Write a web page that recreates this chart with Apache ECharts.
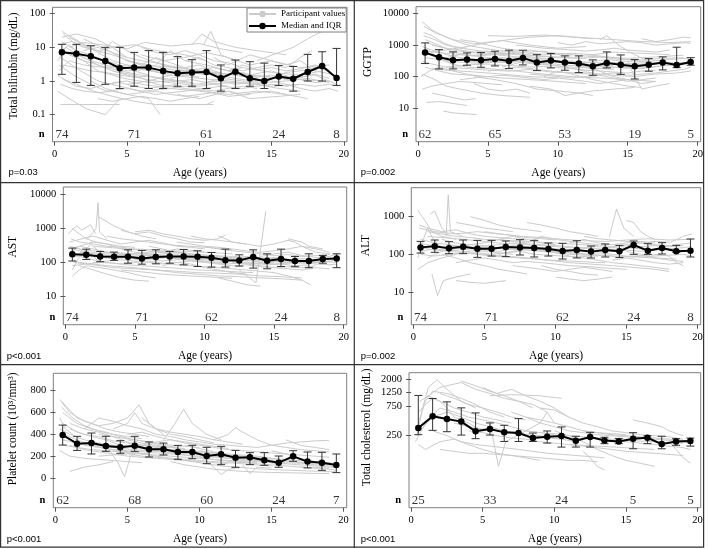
<!DOCTYPE html>
<html>
<head>
<meta charset="utf-8">
<script src="https://cdn.jsdelivr.net/npm/echarts@6.0.0/dist/echarts.min.js"></script>
<style>html,body{margin:0;padding:0;background:#fff}#c{width:709px;height:549px}</style>
</head>
<body>
<div id="c"></div>
<script>
// ---------- shared ----------
const xTicks = [0, 5, 10, 15, 20];
const medAges = [0.5,1.5,2.5,3.5,4.5,5.5,6.5,7.5,8.5,9.5,10.5,11.5,12.5,13.5,14.5,15.5,16.5,17.5,18.5,19.5];
const nAges = [0.5, 5.5, 10.5, 15.5, 19.5];

// ---------- Total bilirubin ----------
const biliTicks = [0.1, 1, 10, 100];
const biliMedian = [7.1,6.5,5.4,3.9,2.4,2.5,2.5,2.0,1.7,1.8,1.85,1.2,1.9,1.2,1.0,1.37,1.17,1.85,2.8,1.23];
const biliLow = [1.58,0.91,0.74,0.8,0.6,0.7,0.6,0.6,0.7,0.7,0.6,0.5,0.6,0.7,0.6,0.74,0.5,1.0,1.0,0.74];
const biliHigh = [12.3,12.3,11.2,10,10,7.1,8,7.1,5.3,4.3,8,3.0,4.2,3.75,3.4,2.9,2.7,6.2,7.4,9.3];
const biliN = [74, 71, 61, 24, 8];
const biliParticipants = [
 [[0.3,12],[1.2,15],[2.5,9],[4,6],[6,3],[8.5,2.5],[11,1.8],[14,1.2]],
 [[0.4,0.2],[1.5,0.2],[3,0.2],[4.5,0.2]],
 [[0.5,20],[1.5,25],[2.8,18],[4,10],[5.5,12],[7,8],[9,6],[10.5,4]],
 [[0.3,3],[1.3,1.5],[2.5,0.8],[3.6,0.5],[5,0.6],[7,0.4],[9,0.5],[11.5,0.7],[13,0.6]],
 [[0.6,8],[2,4],[3,2],[4.8,1.2],[6.5,0.9],[8,1],[10,0.8],[12.5,0.9],[15,0.7],[17,0.8]],
 [[0.2,0.5],[1,0.3],[2.2,0.15],[3.5,0.1],[4.5,0.3]],
 [[1,10],[2,14],[3.2,12],[5,9],[6.2,14],[8,11],[10,13],[11.5,9],[13,7]],
 [[0.4,5],[1.8,2],[3,1],[4.5,0.7],[6,0.5],[8,0.6],[10,0.5],[12,0.4],[14,0.5],[16,0.4],[17.5,0.3]],
 [[2,18],[3.5,9],[5,4],[6.5,3],[8.5,2],[11,2.5],[13.5,1.5],[16,1.2],[18.5,1]],
 [[0.5,1.2],[1.5,0.8],[2.7,0.5],[4,0.35],[5.5,0.25],[7,0.2],[8.5,0.2],[11,0.2]],
 [[4,2],[5.5,1.5],[7,0.8],[9,0.6],[10.5,0.5],[12,0.35],[13.5,0.4]],
 [[6,6],[7.5,4],[9,5],[10.5,7],[12,5],[13.5,3],[15,4],[17,2.5],[19,3]],
 [[9.5,12],[10.2,25],[11,15],[12.5,10],[14,8],[16,6]],
 [[0.3,7],[1,12],[2,5],[3,3],[4.5,2],[6,1.5],[7.5,1.2],[9.5,0.9]],
 [[5,0.8],[6.5,1],[8,1.5],[10,1.2],[12,1],[14,0.8],[15.5,0.6],[17,0.5]],
 [[12,2],[13.5,1.5],[15,2],[16.5,1.2],[18,1.5],[19.5,0.8]],
 [[14,4],[15.5,7],[16.5,10],[17.5,18],[18.5,30],[19.3,40]],
 [[7,3],[8,8],[9,4],[10.5,3],[12,2],[13,2.5],[15,1.8],[17,1.5],[18.5,2]],
 [[2.5,1],[3.5,0.6],[5,0.4],[6.5,0.3],[7.3,0.1]],
 [[10,0.8],[11.5,1.2],[13,1],[14.5,0.9],[16,1],[17.5,1.2],[19,0.9]],
 [[0.5,15],[1.5,8],[2.5,6],[3.5,4],[4.5,3],[5.5,2],[6.5,1.5]],
 [[11,5],[12,3],[13.5,6],[15,4],[16,3],[17,4],[18,2],[19.5,1.5]],
 [[0.3,2],[1,4],[2,3],[3.5,2.5],[5,3],[6.5,2],[8,1.6],[9.5,2.2],[11,1.8],[12.5,1.5],[14,1.3]],
 [[8.5,0.4],[10,0.3],[12,0.5],[13.5,0.3],[15.5,0.35],[17,0.4]],
 [[3,6],[4,15],[5,8],[6,5],[7.5,3],[9,2],[10.5,1.5]],
 [[0.6,25],[1.2,15],[2,10],[3,8],[4,10],[5,5]],
 [[15,1],[16,0.8],[17,0.6],[18,0.5],[19,0.6],[19.6,0.5]],
 [[10.3,12],[10.8,30],[11.5,6],[12.5,4]],
 [[7.5,0.2],[9,0.2],[10.5,0.2],[11,0.25]],
 [[0.2,4],[0.8,10],[1.5,6],[2.5,4],[3.5,3],[5,2],[6.5,2.2],[8,1.4]],
 [[0.3,9],[1,6],[2,4],[3,3],[4,2],[5,1.5],[6,1.2],[7,1],[8,0.9],[9,0.8],[10,0.7],[11,0.8],[12,0.7]],
 [[0.5,3],[1.5,2.5],[2.5,2],[3.5,1.8],[4.5,1.5],[5.5,1.3],[6.5,1.4],[7.5,1.1],[8.5,1],[9.5,1.1],[10.5,0.9],[11.5,1],[12.5,0.8],[13.5,0.9],[14.5,0.8]],
 [[1,20],[2,12],[3,7],[4,4],[5,3],[6,2.5],[7,2],[8,1.8],[9,1.5],[10,1.3]],
 [[0.4,0.8],[1.2,0.6],[2,0.5],[3,0.45],[4,0.5],[5,0.4],[6,0.45],[7,0.5],[8,0.4],[9,0.35],[10,0.4],[11,0.45],[12,0.5],[13,0.4],[14,0.45],[15,0.5],[16,0.4]],
 [[5,4],[6,3],[7,5],[8,3.5],[9,2.5],[10,3],[11,2],[12,1.5],[13,1.8],[14,1.3],[15,1.5],[16,1.1],[17,1.3],[18,1.6],[19,1.2]],
 [[2,8],[3,10],[4,7],[5,5],[6,4],[7,3.5],[8,2.8],[9,2.4],[10,2],[11,1.7],[12,1.4]],
 [[8,1.2],[9,1.5],[10,2],[11,1.6],[12,1.3],[13,1.1],[14,1],[15,1.2],[16,1.4],[17,1.1],[18,0.9],[19,1]],
 [[0.2,1.5],[0.8,1],[1.5,0.7],[2.5,0.6],[3.5,0.8],[4.5,0.9],[5.5,0.7],[6.5,0.6],[7.5,0.7],[8.5,0.8]],
 [[13,0.6],[14,0.7],[15,0.8],[16,0.7],[17,0.8],[18,0.7],[19,0.8],[19.6,0.7]],
 [[6,10],[7,7],[8,6],[9,8],[10,6],[11,4],[12,3.5],[13,2.5]],
 [[3,0.3],[4,0.25],[5,0.3],[6,0.35],[7,0.3],[8,0.25],[9,0.3],[10,0.35]],
 [[11,2.5],[12,2],[13,3],[14,2.2],[15,2.5],[16,2],[17,2.3],[18,3],[19,2.2]],
 [[0.5,30],[1,22],[1.8,14],[2.5,10],[3,12]],
 [[14,1.5],[15,1.2],[16,1.8],[17,2],[18,2.5],[19,2]],
 [[4,0.9],[5,1],[6,0.8],[7,0.7],[8,0.6],[9,0.7],[10,0.6],[11,0.5],[12,0.6],[13,0.7],[14,0.6]],
 [[9,4],[10,5],[11,3],[12,2.5],[13,2],[14,2.5],[15,3],[16,2.5],[17,5],[17.8,8]]
];

// ---------- GGTP ----------
const ggtpTicks = [10, 100, 1000, 10000];
const ggtpMedian = [580,412,330,347,330,365,315,393,280,323,280,260,213,272,240,213,240,280,235,293];
const ggtpLow = [260,175,175,230,198,218,180,235,155,189,159,134,110,189,118,84,148,163,193,230];
const ggtpHigh = [1180,720,610,566,580,640,690,690,500,540,454,454,340,610,488,348,373,423,860,400];
const ggtpN = [62, 65, 53, 19, 5];
const ggtpParticipants = [
 [[0.3,5500],[1,3000],[2,1800],[3,1200],[4,900],[5.5,700],[7,600]],
 [[0.4,4000],[1.2,2500],[2.5,1500],[4,1100],[6,1400],[8,1000],[10,800],[12,900]],
 [[0.5,1500],[1.5,1000],[2.5,600],[3.5,500],[5,400],[6.5,350],[8,300],[10,280],[12,250],[14,220]],
 [[0.6,800],[1.4,400],[2.4,250],[3.5,200],[5,180],[7,150],[9,120],[11,100],[13,90],[15,80],[17,70]],
 [[0.3,120],[1.2,80],[2,50],[3,40],[4.5,30],[6,25],[8,22]],
 [[0.6,15],[1.5,16],[2.5,14],[3.5,12]],
 [[1.8,8],[2.5,7],[3.5,6.5],[4.2,6.2]],
 [[1,30],[2,24],[3.3,18],[4.1,20]],
 [[0.5,600],[2,700],[3.5,900],[5,1200],[6.5,1500],[8,1800],[10,2000],[12,1700],[14,1500],[16,1300],[18,1200],[19.5,1300]],
 [[5,2000],[7,1900],[9,2100],[11,1800],[12.5,1600]],
 [[2,300],[3,350],[4.5,280],[6,320],[7.5,450],[9,380],[10.5,300],[12,280],[13.5,350],[15,300],[17,280],[18.5,250],[19.5,300]],
 [[4,100],[5.5,80],[7,60],[8.5,40],[10,35],[11.5,30],[12.5,25]],
 [[8,50],[9.5,40],[10.5,25],[11.5,30],[12.5,35],[14,40],[15.5,45]],
 [[13,1500],[13.5,2000],[14.5,900],[15.5,500],[16.5,300],[17.5,250]],
 [[15,300],[15.5,100],[16,40],[17,50],[18,60]],
 [[0.3,300],[1,250],[2,200],[3.5,180],[5,160],[6.5,150],[8,170],[9.5,140],[11,130],[12.5,120],[14,110],[15.5,100],[17,120],[18.5,130],[19.5,150]],
 [[1,1000],[2,800],[3,700],[4,600],[5,650],[6,500],[7,550],[8.5,450],[10,400],[11.5,380],[13,420],[14.5,350],[16,330],[17.5,380],[19,400]],
 [[0.5,200],[1.5,150],[2.5,120],[4,110],[6,90],[8,80],[10,70],[12,60]],
 [[3,1500],[4,1300],[5,1000],[6,800],[7,700],[8,600],[9,650],[10,500],[11,450]],
 [[6,200],[7.5,300],[9,250],[10.5,200],[12,150],[13,180],[14.5,200],[16,180],[17.5,220],[19,240]],
 [[9,100],[10,150],[11,120],[12.5,80],[14,60],[15,50],[16,45]],
 [[0.4,2500],[1,2000],[1.8,1200],[2.5,900],[3.5,800]],
 [[10,1200],[11,1000],[12,1300],[13,1100],[14,1200],[15,1300],[16,1200],[17,1000],[18,1100],[19,1200],[19.5,1150]],
 [[16,1600],[17,1300],[18,1500],[19,1800],[19.5,1700]],
 [[2,400],[3,500],[4,450],[5.5,500],[7,600],[8,550],[9.5,500],[11,550],[12.5,500],[14,600],[16,550],[18,500]],
 [[0.2,100],[0.8,150],[1.5,200],[2.5,150],[3.5,120],[4.5,100]],
 [[4,60],[5,40],[6,35],[7,40],[8,30]],
 [[11,300],[12,200],[13,150],[14,100],[15,80],[16,60],[17,70]],
 [[0.3,900],[1,700],[2,500],[3,400],[4,350],[5,300],[6,280],[7,300],[8,260],[9,240],[10,220],[11,200],[12,190],[13,180],[14,170]],
 [[0.5,400],[1.5,350],[2.5,300],[3.5,280],[4.5,260],[5.5,300],[6.5,280],[7.5,320],[8.5,250],[9.5,260],[10.5,230],[11.5,220],[12.5,200],[13.5,210],[14.5,190],[15.5,180],[16.5,200],[17.5,220]],
 [[1,600],[2,550],[3,500],[4,480],[5,520],[6,600],[7,650],[8,700],[9,600],[10,550],[11,500],[12,450],[13,420],[14,400],[15,380],[16,400],[17,420],[18,450],[19,480]],
 [[2,200],[3,220],[4,240],[5,250],[6,230],[7,220],[8,200],[9,210],[10,190],[11,180],[12,160],[13,150],[14,140],[15,130],[16,150],[17,160]],
 [[0.4,2000],[1.2,1500],[2,1000],[3,800],[4,700],[5,600],[6,550],[7,500],[8,480],[9,450],[10,420],[11,400],[12,380]],
 [[5,150],[6,170],[7,200],[8,180],[9,160],[10,140],[11,130],[12,140],[13,120],[14,130],[15,110],[16,120],[17,130],[18,150],[19,170],[19.5,200]],
 [[3,80],[4,90],[5,100],[6,110],[7,100],[8,90],[9,80],[10,90],[11,80],[12,70],[13,60],[14,70],[15,80]],
 [[12,500],[13,450],[14,400],[15,350],[16,300],[17,320],[18,350],[19,380],[19.5,350]],
 [[0.6,1200],[1.5,900],[2.5,700],[3.5,600],[4.5,550],[5.5,500],[6.5,450],[7.5,400],[8.5,380],[9.5,350]],
 [[7,1000],[8,900],[9,800],[10,750],[11,700],[12,650],[13,700],[14,800],[15,700],[16,650],[17,600],[18,700]],
 [[1,180],[2,160],[3,150],[4,140],[5,130],[6,120],[7,110],[8,100],[9,95],[10,90]],
 [[14,250],[15,200],[16,220],[17,250],[18,280],[19,250],[19.5,270]],
 [[0.3,40],[1,50],[2,60],[3,70],[4,65],[5,60],[6,55]],
 [[8,120],[9,110],[10,100],[11,90],[12,100],[13,110],[14,90],[15,70],[16,80],[17,90]],
 [[4,300],[5,350],[6,400],[7,380],[8,350],[9,330],[10,300],[11,310],[12,290],[13,270],[14,280],[15,260],[16,250],[17,270],[18,260],[19,280]]
];

// ---------- AST ----------
const astTicks = [10, 100, 1000, 10000];
const astMedian = [176,168,150,147,147,131,144,150,150,147,137,117,115,144,112,126,110,110,126,131];
const astLow = [110,122,105,115,95,89,91,95,85,76,73,73,78,68,65,76,75,70,95,70];
const astHigh = [265,247,211,202,236,226,236,211,242,221,197,247,168,236,180,247,150,180,161,180];
const astN = [74, 71, 62, 24, 8];
const astParticipants = [
 [[0.3,200],[1,300],[2,250],[3,200],[4,180],[5.5,160],[7,150],[8.5,140],[10,130],[12,120],[14,110],[16,100]],
 [[0.5,1000],[1,700],[1.5,500],[2.2,400],[3,350],[4,300],[5,280]],
 [[1.6,500],[2.2,1000],[2.35,5800],[2.45,800],[3,500]],
 [[2.4,2200],[3.5,1200],[4.5,800],[5.5,600],[6.5,500]],
 [[0.5,40],[1,60],[1.5,80],[2.5,70],[3.5,60],[4.5,50],[5.5,40],[6.5,35]],
 [[0.6,100],[1.5,90],[2.5,80],[3.5,70],[5,65],[6.5,60],[8,55],[9.5,50],[11,48],[12.5,45],[14,40],[15.5,38],[17,35]],
 [[0.3,400],[1.2,500],[2,600],[3,450],[4,350],[5,400],[6,450],[7,380],[8,300],[9,280],[10,250]],
 [[5,800],[6,900],[7,700],[8,600],[9,500],[10,450],[11,500],[11.5,650]],
 [[1,150],[2,120],[3,100],[4,90],[5,100],[6,110],[7,95],[8,85],[9,80],[10,75],[11,70],[12,65],[13,60],[14,55],[15,50]],
 [[0.4,250],[1.5,200],[3,180],[4.5,170],[6,200],[7.5,220],[9,180],[10.5,160],[12,150],[13.5,140],[15,130],[16.5,120],[18,110],[19.5,100]],
 [[12.5,60],[13.7,25],[14.4,3200]],
 [[8,400],[9,350],[10,300],[11,280],[12,250],[13,220],[14,200],[15,220],[16,250],[17,300],[18,250],[19,200]],
 [[11,35],[12,28],[13,22],[14,20]],
 [[15,50],[16,40],[17,30],[17.6,22]],
 [[0.2,700],[0.8,1200],[1.2,900],[1.8,1300],[2.2,700]],
 [[6,300],[7,250],[8,200],[9,180],[10,160],[11,150],[12,140],[13,130],[14,120],[15,115],[16,110],[17,105],[18,100],[19,110],[19.5,120]],
 [[1,80],[2,60],[3,45],[4,35],[5,30],[6,28]],
 [[4,900],[5,700],[6,800],[7,600],[8,500],[9,400],[10,380]],
 [[11,600],[11.5,500],[12,400],[13,350],[14,300],[15,350],[16,450],[16.5,400],[17,300],[18,200],[19,180]],
 [[0.5,120],[1,100],[2,90],[3,80],[4,75],[5,70],[6.5,60],[8,50],[9.5,45],[11,40],[12.5,38],[14,35],[15.5,33],[17,30]],
 [[7,80],[8,100],[9,90],[10,70],[11,60],[12,50],[13,45]],
 [[14,150],[15,180],[16,200],[17,160],[18,140],[19,150],[19.5,180]],
 [[0.5,60],[1,150],[1.5,250],[2,150],[2.5,100]],
 [[9,600],[10,500],[11,450],[12,400],[13,350]],
 [[16,500],[17,400],[17.5,300],[18.5,250]],
 [[2,300],[3,280],[4,260],[5,240],[6,220],[7,200],[8,190],[9,180]],
 [[0.3,300],[1,250],[2,220],[3,200],[4,190],[5,180],[6,170],[7,160],[8,170],[9,150],[10,140],[11,130],[12,120],[13,110],[14,120],[15,110],[16,100],[17,95],[18,100],[19,110]],
 [[0.5,150],[1.5,160],[2.5,140],[3.5,130],[4.5,140],[5.5,120],[6.5,130],[7.5,140],[8.5,120],[9.5,110],[10.5,100],[11.5,90],[12.5,95],[13.5,100],[14.5,85],[15.5,90],[16.5,80],[17.5,85]],
 [[1,200],[2,180],[3,160],[4,170],[5,150],[6,160],[7,180],[8,200],[9,170],[10,150],[11,140],[12,130],[13,150],[14,130],[15,140],[16,120],[17,130],[18,120],[19,130],[19.5,140]],
 [[0.4,500],[1,400],[2,350],[3,300],[4,280],[5,250],[6,240],[7,230],[8,220],[9,210],[10,200],[11,190],[12,180]],
 [[2,100],[3,110],[4,120],[5,110],[6,100],[7,90],[8,100],[9,110],[10,100],[11,90],[12,80],[13,85],[14,75],[15,70],[16,75],[17,70],[18,80]],
 [[3,600],[4,500],[5,450],[6,400],[7,350],[8,320],[9,300],[10,280],[11,260],[12,240]],
 [[0.5,80],[1.5,90],[2.5,100],[3.5,95],[4.5,85],[5.5,80],[6.5,75],[7.5,70],[8.5,65],[9.5,60],[10.5,58],[11.5,55],[12.5,52],[13.5,50]],
 [[7,150],[8,130],[9,120],[10,110],[11,100],[12,110],[13,120],[14,100],[15,90],[16,95],[17,100],[18,90],[19,85],[19.5,90]],
 [[1,300],[2,400],[3,350],[4,250],[5,200],[6,180],[7,200],[8,250],[9,230],[10,200]],
 [[10,300],[11,250],[12,220],[13,200],[14,180],[15,160],[16,170],[17,150],[18,160],[19,170]],
 [[4,60],[5,55],[6,50],[7,45],[8,42],[9,40],[10,38],[11,36],[12,34]],
 [[12,100],[13,90],[14,80],[15,70],[16,65],[17,60],[18,70],[19,65]],
 [[0.3,150],[0.8,300],[1.3,200],[1.8,350],[2.5,200]],
 [[5,120],[6,130],[7,110],[8,120],[9,130],[10,120],[11,110],[12,105],[13,95],[14,90],[15,100]]
];

// ---------- ALT ----------
const altTicks = [10, 100, 1000];
const altMedian = [153,163,144,160,141,141,157,153,147,138,123,130,118,130,120,177,125,147,120,125];
const altLow = [108,113,104,104,83,90,87,96,85,90,75,80,80,85,82,100,100,102,113,85];
const altHigh = [221,240,217,240,235,235,226,245,235,200,196,230,166,188,173,226,192,204,173,255];
const altN = [74, 71, 62, 24, 8];
const altParticipants = [
 [[0.3,1500],[0.8,800],[1.3,400],[2,300],[3,250]],
 [[1.2,1200],[1.5,1400],[2,500],[2.5,300]],
 [[2.3,300],[2.45,3800],[2.6,400],[3.5,300]],
 [[1.3,30],[1.7,8],[2.1,20],[3,25],[4,30]],
 [[0.3,40],[1,60],[2,80],[3,100],[4,120]],
 [[0.5,250],[1.5,200],[2.5,180],[3.5,160],[5,150],[6.5,140],[8,130],[9.5,120],[11,110],[12.5,100],[14,90],[15.5,85],[17,80],[18.5,75]],
 [[0.4,500],[1.5,400],[3,350],[4.5,400],[6,350],[7.5,300],[9,280],[10.5,250],[12,230],[13.5,220],[15,240],[16.5,260],[18,240],[19.5,250]],
 [[3,700],[4,600],[5,500],[6,450],[7,400]],
 [[2,100],[3,80],[4,60],[5,50],[6,40],[7,35],[8,30]],
 [[3,20],[4,18],[5,17],[6.5,20]],
 [[8,700],[9,600],[10,500],[11,400],[12,350],[13,300]],
 [[10,25],[11,22],[12,20],[13,22],[14,25]],
 [[13.8,300],[14.3,1600],[14.8,500],[15.5,300]],
 [[15,800],[15.5,700],[16,400],[16.5,300],[17,250]],
 [[0.5,150],[1.5,130],[2.5,120],[3.5,110],[5,100],[6.5,90],[8,80],[9.5,70],[11,60],[12.5,55],[14,50],[15.5,45],[17,40],[18,35]],
 [[1,300],[2,280],[3,260],[4,240],[5,220],[6,200],[7,190],[8,180],[9,170],[10,160],[11,150],[12,145],[13,140],[14,135],[15,150],[16,140],[17,130],[18,140],[19,150],[19.5,160]],
 [[18,200],[19,300],[19.6,350]],
 [[6,100],[7,120],[8,150],[9,130],[10,110],[11,90],[12,80],[13,70],[14,60],[15,55],[16,50],[17,45],[18,40]],
 [[4,1000],[5,800],[6,600],[7,500],[8,450],[9,400]],
 [[9,50],[10,40],[11,35],[12,30],[13,28]],
 [[17,100],[18,90],[18.5,60],[19,50]],
 [[0.3,80],[0.6,200],[1,500],[1.4,250],[2,150]],
 [[11,200],[12,250],[13,200],[14,180],[15,200],[16,220],[17,200]],
 [[3,150],[4,180],[5,200],[6,250],[7,300],[8,250],[9,200],[10,180]],
 [[15,120],[16,100],[17,80],[18,70],[19,65]],
 [[5,400],[6,350],[7,320],[8,280],[9,260],[10,240]],
 [[0.3,200],[1,180],[2,160],[3,170],[4,150],[5,160],[6,150],[7,170],[8,160],[9,150],[10,140],[11,130],[12,120],[13,130],[14,120],[15,130],[16,120],[17,140],[18,130],[19,120]],
 [[0.5,120],[1.5,140],[2.5,130],[3.5,120],[4.5,110],[5.5,100],[6.5,110],[7.5,120],[8.5,100],[9.5,95],[10.5,90],[11.5,85],[12.5,90],[13.5,95],[14.5,85],[15.5,90],[16.5,95],[17.5,100]],
 [[1,400],[2,350],[3,300],[4,280],[5,250],[6,240],[7,230],[8,220],[9,210],[10,200],[11,190],[12,180],[13,170]],
 [[2,250],[3,200],[4,180],[5,170],[6,180],[7,200],[8,190],[9,180],[10,170],[11,160],[12,150],[13,160],[14,150],[15,170],[16,160],[17,170],[18,160],[19,170]],
 [[0.4,600],[1,500],[2,400],[3,450],[4,350],[5,300],[6,280],[7,260],[8,240]],
 [[3,60],[4,70],[5,80],[6,70],[7,60],[8,65],[9,60],[10,55],[11,50],[12,48],[13,45],[14,42],[15,40]],
 [[6,250],[7,220],[8,200],[9,300],[10,250],[11,220],[12,200],[13,180],[14,160],[15,180],[16,200],[17,180],[18,170],[19.5,200]],
 [[0.5,100],[1.5,90],[2.5,100],[3.5,110],[4.5,100],[5.5,90],[6.5,85],[7.5,80],[8.5,75],[9.5,70],[10.5,68],[11.5,65],[12.5,62],[13.5,60]],
 [[10,120],[11,110],[12,100],[13,110],[14,100],[15,90],[16,85],[17,90],[18,95],[19,100],[19.6,90]],
 [[7,50],[8,45],[9,40],[10,35],[11,40],[12,45],[13,40],[14,35]],
 [[12,300],[13,260],[14,240],[15,220],[16,200],[17,220],[18,210]],
 [[1,80],[2,120],[3,140],[4,130],[5,120],[6,110],[7,100]],
 [[14,70],[15,80],[16,70],[17,60],[18,55],[19,60]],
 [[4,150],[5,130],[6,120],[7,140],[8,130],[9,120],[10,110],[11,100],[12,95],[13,90]]
];

// ---------- Platelet count ----------
const pltTicks = [0, 200, 400, 600, 800];
const pltMedian = [394,314,320,293,281,296,263,263,238,238,201,217,186,189,162,140,198,150,140,119];
const pltLow = [302,253,220,244,226,244,192,211,171,177,131,122,98,122,116,98,153,92,70,49];
const pltHigh = [485,382,412,382,342,382,330,320,299,299,281,290,253,232,232,201,250,238,235,220];
const pltN = [62, 68, 60, 24, 7];
const pltParticipants = [
 [[0.3,720],[0.8,650],[1.5,550],[2.5,500],[3.5,450],[4.5,420],[5.5,400],[6.5,380]],
 [[0.4,700],[1,600],[2,520],[3,480],[4,500],[5,550],[5.8,670],[6.5,500],[7.5,400]],
 [[0.5,500],[1.5,420],[2.5,380],[3.5,350],[4.5,300],[5.5,280],[6.5,260],[7.5,240],[8.5,220],[9.5,200],[10.5,180],[11.5,160],[12.5,150],[13.5,140]],
 [[0.6,400],[1.5,350],[2.5,300],[3.5,270],[4.5,250],[5.5,230],[6.5,210],[7.5,190],[8.5,170],[9.5,150],[10.5,130],[11.5,110],[12.5,100],[13.5,90],[14.5,80],[15.5,75],[16.5,70],[17.5,65],[18.5,60],[19.5,55]],
 [[1,60],[2,100],[3,120],[4,150]],
 [[3.5,300],[4.3,150],[4.8,10],[5.2,200],[6,250]],
 [[7.5,350],[8.3,500],[8.9,630],[9.5,500],[10.5,400],[11.5,350]],
 [[2,450],[3,550],[4,520],[5,480],[6,450],[7,400],[8,380],[9,350],[10,330],[11,310],[12,300],[13,290],[14,280],[15,300],[16,320],[17,330],[18,340],[19,345]],
 [[11,350],[12,400],[12.5,460],[13,420],[14,350],[15,300],[16,280],[17,260],[18,250],[19,240]],
 [[0.3,250],[1,200],[2,180],[3,170],[4,160],[5,150],[6,140]],
 [[5,350],[6,320],[7,300],[8,280],[9,260],[10,240],[11,220],[12,200],[13,180],[14,160],[15,140],[16,130],[17,120],[18,110],[19,100],[19.5,95]],
 [[10,200],[11,100],[11.5,30],[12,80],[13,100]],
 [[13,120],[13.5,40],[14,100],[15,90]],
 [[15,250],[16,220],[17,180],[18,150],[19,130]],
 [[8,150],[9,120],[10,100],[11,80],[12,70],[13,60],[14,55],[15,50],[16,48],[17,45],[18,42],[19,40]],
 [[0.5,600],[1.5,500],[2.5,450],[3.5,420],[4.5,380],[5.5,350],[6.5,330],[7.5,300],[8.5,280]],
 [[6,550],[7,450],[8,420],[9,400],[10,380],[11,350],[12,330],[13,310]],
 [[1,300],[2,260],[3,240],[4,220],[5,200],[6,190],[7,180],[8,170],[9,160],[10,150],[11,140],[12,130]],
 [[3,400],[4,380],[5,330],[6,300],[7,280],[8,260]],
 [[14,200],[15,180],[16,160],[17,140],[18,120],[19,110],[19.5,100]],
 [[0.3,550],[0.7,450],[1.2,400]],
 [[16,350],[17,300],[18,280],[19,260]],
 [[9,300],[10,270],[11,240],[12,210],[13,190],[14,170],[15,150]],
 [[4,250],[5,230],[6,220],[7,210],[8,200],[9,190],[10,180],[11,170],[12,160],[13,150],[14,140]],
 [[17,100],[18,90],[19,80],[19.5,70]],
 [[0.3,450],[1,400],[2,350],[3,320],[4,300],[5,290],[6,280],[7,270],[8,260],[9,250],[10,240],[11,230],[12,220],[13,210],[14,200]],
 [[0.5,350],[1.5,320],[2.5,300],[3.5,290],[4.5,270],[5.5,260],[6.5,250],[7.5,240],[8.5,230],[9.5,220],[10.5,210],[11.5,200],[12.5,190],[13.5,180],[14.5,170],[15.5,160],[16.5,150],[17.5,140]],
 [[1,500],[2,450],[3,420],[4,380],[5,360],[6,340],[7,320],[8,300],[9,290],[10,280]],
 [[2,300],[3,280],[4,260],[5,250],[6,240],[7,230],[8,220],[9,210],[10,200],[11,190],[12,180],[13,170],[14,160],[15,150],[16,140],[17,135],[18,130],[19,125]],
 [[0.4,650],[1.2,550],[2,480],[3,430],[4,400],[5,380],[6,360]],
 [[4,450],[5,500],[5.5,600],[6,500],[7,450],[8,400],[9,380],[10,350],[11,320]],
 [[3,200],[4,210],[5,220],[6,200],[7,190],[8,180],[9,170],[10,160],[11,150],[12,140],[13,130],[14,120],[15,110]],
 [[6,300],[7,330],[8,350],[9,320],[10,300],[11,280],[12,260],[13,250],[14,240],[15,230],[16,220],[17,210],[18,200],[19,190]],
 [[0.5,300],[1.5,280],[2.5,260],[3.5,250],[4.5,240],[5.5,230],[6.5,220]],
 [[10,250],[11,230],[12,210],[13,200],[14,190],[15,180],[16,170],[17,160],[18,150],[19,140],[19.5,130]],
 [[12,150],[13,140],[14,130],[15,120],[16,110],[17,100],[18,95],[19,90]],
 [[5,400],[6,420],[7,380],[8,350],[9,330],[10,310],[11,290],[12,270]],
 [[1,450],[2,400],[3,380],[4,340],[5,320],[6,300],[7,290],[8,280],[9,270]],
 [[8,250],[9,230],[10,220],[11,200],[12,180],[13,160],[14,150],[15,140],[16,130]]
];

// ---------- Total cholesterol ----------
const cholTicks = [250, 750, 1250, 2000];
const cholMedian = [333,515,466,422,294,321,283,276,229,241,247,208,238,210,202,224,232,183,202,205];
const cholLow = [260,305,290,256,224,256,202,202,202,190,164,164,164,186,186,154,186,154,175,170];
const cholHigh = [1115,995,879,703,583,402,368,472,276,298,346,245,283,236,226,280,249,245,224,229];
const cholN = [25, 33, 24, 5, 5];
const cholParticipants = [
 [[0.4,250],[0.8,700],[1.2,1500],[1.8,2000],[2.5,1400],[3.5,900],[4.5,700]],
 [[0.5,400],[1,900],[1.5,1300],[2.5,1200],[3.5,1000],[4.5,800],[5.5,600],[6.5,500]],
 [[0.6,300],[1.5,500],[2.5,600],[3.5,500],[4.5,400],[5.5,350],[6.5,300],[7.5,280],[8.5,250],[9.5,230],[10.5,220],[11.5,200]],
 [[0.5,180],[1,150],[2,200],[3,220],[4,180],[5,150],[6,130],[7,120],[8,110],[9,100]],
 [[1,1000],[2,1500],[3,1700],[3.5,1800],[4.5,1400],[5.5,1200],[6.5,1000],[7.5,900],[8.5,800],[9.5,600]],
 [[3.5,1900],[4.5,1600],[5.5,1300],[6.5,1100],[7.5,900],[8.5,700]],
 [[5,1500],[6,1200],[7,1400],[8,1100],[9,900],[10,700],[11,500]],
 [[5.5,1100],[7,1150],[9,1100],[10.5,1000]],
 [[1.5,300],[2.5,250],[3.5,200],[4.5,180],[5.5,170],[6.5,160],[7.5,150],[8.5,140],[9.5,130],[10.5,125],[11.5,120],[12.5,115],[13.5,110]],
 [[5.5,400],[6.1,80],[6.6,200],[8,300],[9,400],[9.5,600],[10,400]],
 [[8,500],[9,400],[10,350],[11,300],[12,280],[13,260],[14,250],[15,240],[16,230],[17,220],[18,210],[19,200],[19.5,190]],
 [[10,300],[11,250],[12,200],[13,150],[14,120],[15,100],[16,90],[17,80]],
 [[12,140],[12.5,110],[13,80],[13.5,70]],
 [[0.3,200],[1,400],[2,700],[3,600],[4,500],[5,450],[6,400],[7,350],[8,300],[9,280],[10,260]],
 [[2,1200],[3,1000],[4,800],[5,700],[6,600],[7,500],[8,450]],
 [[9,700],[10,650],[11,500],[12,400],[13,350],[14,300],[15,280],[16,260],[17,250],[18,240],[19,220]],
 [[15.5,450],[16.5,400],[17.5,350],[18,300],[19,250]],
 [[11,180],[12,170],[13,160],[14,150],[15,140],[16,135],[17,130],[18,125],[19,120]],
 [[18,200],[18.5,150],[19,110],[19.5,90]],
 [[0.5,600],[1,800],[1.5,1000],[2,900],[2.5,700],[3,500],[4,400],[5,300]],
 [[4,300],[5,280],[6,250],[7,230],[8,220],[9,200],[10,190],[11,180],[12,175],[13,170],[14,165],[15,160],[16,155],[17,150]],
 [[0.6,900],[1.2,1100],[2,900],[3,700],[4,600],[5,500],[6,450],[7,400]],
 [[7,600],[8,500],[9,450],[10,400],[11,350],[12,300],[13,280],[14,270],[15,260]],
 [[13,230],[14,210],[15,200],[16,190],[17,180],[18,170],[19,160],[19.5,150]],
 [[2,150],[3,140],[4,130],[5,130],[6,125],[7,120],[8,115],[9,110],[10,105],[11,100],[12,100],[13,95]],
 [[8,300],[9,280],[10,270],[11,250],[12,240],[13,230],[14,220],[15,210],[16,205],[17,200],[18,195],[19,190]],
 [[3,400],[4,350],[5,320],[6,300],[7,280],[8,260],[9,250],[10,240],[11,230],[12,220]],
 [[12,300],[13,280],[14,260],[15,250],[16,240],[17,230],[18,220],[19,210],[19.5,200]]
];

// ---------- layout / styles ----------
const SERIF = '"Liberation Serif","Times New Roman",serif';
const SANS = '"Liberation Sans",Arial,sans-serif';
const X_MIN = -0.15, X_MAX = 20.22;
const GREY = '#cbcbcb';

const panels = [
 {yName:'Total bilirubin (mg/dL)', yType:'log', yMin:0.05, yMax:155, ticks:biliTicks, med:biliMedian, low:biliLow, high:biliHigh, n:biliN, parts:biliParticipants, p:'p=0.03',
  box:{l:52.5, r:347, t:7.3, b:141.7, db:124.8}, nameGap:33, pPos:[8.5,172.5]},
 {yName:'GGTP', yType:'log', yMin:5, yMax:16700, ticks:ggtpTicks, med:ggtpMedian, low:ggtpLow, high:ggtpHigh, n:ggtpN, parts:ggtpParticipants, p:'p=0.002',
  box:{l:416, r:700.7, t:6.7, b:141.7, db:117.5}, nameGap:42.5, pPos:[360.7,172.5]},
 {yName:'AST', yType:'log', yMin:5, yMax:16900, ticks:astTicks, med:astMedian, low:astLow, high:astHigh, n:astN, parts:astParticipants, p:'p<0.001',
  box:{l:63.3, r:346.7, t:187, b:324.7, db:306.5}, nameGap:44, pPos:[6.7,356]},
 {yName:'ALT', yType:'log', yMin:5, yMax:5890, ticks:altTicks, med:altMedian, low:altLow, high:altHigh, n:altN, parts:altParticipants, p:'p=0.002',
  box:{l:411.3, r:700.7, t:187.7, b:324.7, db:303.3}, nameGap:39.5, pPos:[360.7,356]},
 {yName:'Platelet count (10\u00B3/mm\u00B3)', yType:'value', yMin:-60, yMax:960, ticks:pltTicks, med:pltMedian, low:pltLow, high:pltHigh, n:pltN, parts:pltParticipants, p:'p<0.001',
  box:{l:53.3, r:346.7, t:373.3, b:507.7, db:484.5}, nameGap:34, pPos:[6.7,539]},
 {yName:'Total cholesterol (mg/dL)', yType:'log', yMin:45, yMax:2594, ticks:cholTicks, med:cholMedian, low:cholLow, high:cholHigh, n:cholN, parts:cholParticipants, p:'p<0.001',
  box:{l:409, r:700.7, t:372.7, b:507.7, db:481.9}, nameGap:36.3, pPos:[360.7,539]}
];

function renderErrorBar(params, api) {
  const x = api.value(0);
  const lo = api.coord([x, api.value(1)]);
  const hi = api.coord([x, api.value(2)]);
  const w = 4;
  const style = {stroke:'#333', lineWidth:1, fill:null};
  return {type:'group', children:[
    {type:'line', shape:{x1:lo[0], y1:lo[1], x2:hi[0], y2:hi[1]}, style:style},
    {type:'line', shape:{x1:lo[0]-w, y1:lo[1], x2:lo[0]+w, y2:lo[1]}, style:style},
    {type:'line', shape:{x1:hi[0]-w, y1:hi[1], x2:hi[0]+w, y2:hi[1]}, style:style}
  ]};
}

const option = {
  animation: false,
  backgroundColor: '#fff',
  grid: [], xAxis: [], yAxis: [], series: [],
  legend: {
    data: ['Participant values', 'Median and IQR'],
    left: 247, top: 8, orient: 'vertical', align: 'left',
    itemWidth: 27, itemHeight: 8, itemGap: 2, padding: [1, 1, 1, 1],
    borderColor: '#7f7f7f', borderWidth: 1, backgroundColor: '#fff',
    selectedMode: false,
    textStyle: {fontFamily: SERIF, fontSize: 9, color: '#000', lineHeight: 10}
  },
  graphic: []
};

panels.forEach(function (P, i) {
  const fi = 2 * i, di = 2 * i + 1;
  const B = P.box;
  const vn = 7 / (B.b - B.t);
  option.grid.push({left:B.l, top:B.t, width:B.r-B.l, height:B.b-B.t, show:true, borderColor:'#7f7f7f', borderWidth:1,
                    backgroundColor:'transparent', containLabel:false, outerBoundsMode:'none'});
  option.grid.push({left:B.l, top:B.t, width:B.r-B.l, height:B.db-B.t, show:false, containLabel:false, outerBoundsMode:'none'});

  option.xAxis.push({gridIndex:fi, type:'value', min:X_MIN, max:X_MAX,
    axisLine:{show:false}, splitLine:{show:false},
    axisTick:{show:true, customValues:xTicks, length:4, lineStyle:{color:'#555'}},
    axisLabel:{customValues:xTicks, fontFamily:SERIF, fontSize:10.5, color:'#000', margin:7},
    name:'Age (years)', nameLocation:'middle', nameGap:25,
    nameTextStyle:{fontFamily:SERIF, fontSize:11.5, color:'#000'}});
  option.xAxis.push({gridIndex:di, type:'value', min:X_MIN, max:X_MAX, show:false});

  option.yAxis.push({gridIndex:fi, type:'value', min:0, max:1,
    axisLine:{show:false}, axisTick:{show:false}, splitLine:{show:false},
    axisLabel:{customValues:[vn], formatter:function(){return 'n';}, fontFamily:SERIF, fontSize:10.5, fontWeight:'bold', color:'#000', margin:8}});
  const yAx = {gridIndex:di, type:P.yType, min:P.yMin, max:P.yMax,
    axisLine:{show:false}, splitLine:{show:false},
    axisTick:{show:true, customValues:P.ticks, length:5, lineStyle:{color:'#555'}},
    axisLabel:{customValues:P.ticks, fontFamily:SERIF, fontSize:10.5, color:'#000', margin:7,
      formatter:function(v){return String(+(+v).toPrecision(6));}},
    name:P.yName, nameLocation:'middle', nameGap:P.nameGap, nameRotate:90,
    nameTextStyle:{fontFamily:SERIF, fontSize:11.5, color:'#000'}};
  if (P.yType === 'log') yAx.logBase = 10;
  option.yAxis.push(yAx);

  P.parts.forEach(function (part) {
    option.series.push({type:'line', name:'Participant values', xAxisIndex:di, yAxisIndex:di, data:part,
      symbol:'none', showSymbol:false, lineStyle:{color:GREY, width:1}, itemStyle:{color:GREY}, silent:true, z:1});
  });
  option.series.push({type:'line', name:'Median and IQR', xAxisIndex:di, yAxisIndex:di,
    data: medAges.map(function(a, j){return [a, P.med[j]];}),
    symbol:'circle', symbolSize:6.5, showSymbol:true, itemStyle:{color:'#000'}, lineStyle:{color:'#000', width:2}, silent:true, z:5});
  option.series.push({type:'custom', name:'IQR', xAxisIndex:di, yAxisIndex:di, renderItem:renderErrorBar,
    data: medAges.map(function(a, j){return [a, P.low[j], P.high[j]];}),
    encode:{x:0, y:[1,2]}, silent:true, z:3});
  option.series.push({type:'scatter', name:'n', xAxisIndex:fi, yAxisIndex:fi,
    data: nAges.map(function(a, j){return [a, vn, P.n[j]];}),
    symbolSize:1, itemStyle:{color:'rgba(0,0,0,0)'}, silent:true, z:4,
    label:{show:true, position:'inside', formatter:function(p){return String(p.value[2]);}, fontFamily:SERIF, fontSize:13, color:'#000'}});

  option.graphic.push({type:'text', x:P.pPos[0], y:P.pPos[1],
    style:{text:P.p, fill:'#000', font:'9.5px ' + SANS, verticalAlign:'middle', textVerticalAlign:'middle'}});
});

// panel frames
const frameStyle = {stroke:'#333', lineWidth:1.2, fill:null};
option.graphic.push({type:'rect', shape:{x:0.6, y:0.6, width:703, height:546.6}, style:frameStyle, silent:true});
option.graphic.push({type:'line', shape:{x1:354.3, y1:0, x2:354.3, y2:548}, style:frameStyle, silent:true});
option.graphic.push({type:'line', shape:{x1:0, y1:182.6, x2:704, y2:182.6}, style:frameStyle, silent:true});
option.graphic.push({type:'line', shape:{x1:0, y1:364.6, x2:704, y2:364.6}, style:frameStyle, silent:true});

const chart = echarts.init(document.getElementById('c'), null, {renderer:'canvas'});
chart.setOption(option);
</script>
</body>
</html>
